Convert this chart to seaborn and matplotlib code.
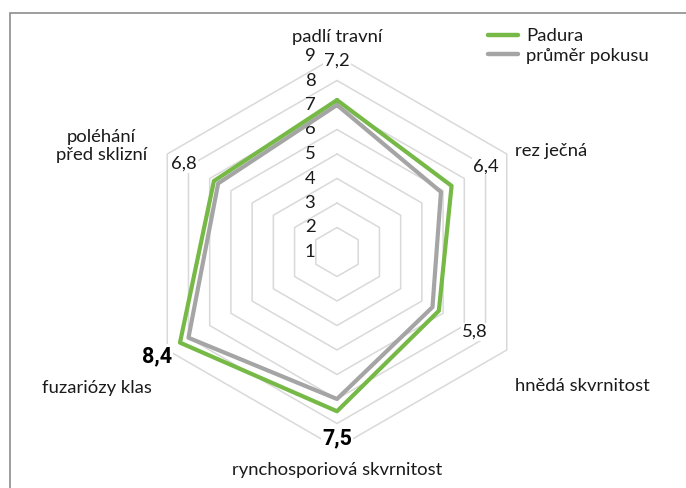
import numpy as np
import pandas as pd
import matplotlib
matplotlib.use("Agg")
import matplotlib.pyplot as plt
from matplotlib.lines import Line2D
import seaborn as sns

# Chart data
categories = ["padlí travní", "rez ječná", "hnědá skvrnitost",
              "rynchosporiová skvrnitost", "fuzariózy klas", "poléhání\npřed sklizní"]
padura = [7.2, 6.4, 5.8, 7.5, 8.4, 6.8]
prumer = [7.0, 5.9, 5.5, 7.0, 8.0, 6.6]
series_names = ["Padura", "průměr pokusu"]
value_labels = ["7,2", "6,4", "5,8", "7,5", "8,4", "6,8"]
bold_labels = [False, False, False, True, True, False]
ticks = [1, 2, 3, 4, 5, 6, 7, 8, 9]

# axis runs from 1 (centre) to 9
vmin, vmax = 1, 9

sns.set_theme(style="white")
plt.rcParams['font.family'] = ['Lato', 'DejaVu Sans']

W, H = 686, 488
FS = 13.3
fig = plt.figure(figsize=(W / 100, H / 100), dpi=100)
ax = fig.add_axes([0, 0, 1, 1])

cx, cy = 337, 252   # centre in pixels (from top)
unit = 24.5         # pixels per value unit
ax.set_xlim(-cx / unit, (W - cx) / unit)
ax.set_ylim(-(H - cy) / unit, cy / unit)
ax.axis("off")

n = len(categories)
angles = np.pi / 2 - np.arange(n) * 2 * np.pi / n


def to_xy(vals):
    r = np.asarray(vals, dtype=float) - vmin
    x = r * np.cos(angles)
    y = r * np.sin(angles)
    return np.append(x, x[0]), np.append(y, y[0])


# hexagonal grid
for t in ticks[1:]:
    gx, gy = to_xy([t] * n)
    ax.plot(gx, gy, color="#d9d9d9", lw=1.1, zorder=1)

# tick labels
for t in ticks:
    ax.text(-1.1, t - vmin, str(t), ha="center", va="center",
            fontsize=FS, color="#1a1a1a", zorder=2)

# series
palette = {"Padura": "#76b947", "průměr pokusu": "#a5a5a5"}
rows = []
for name, vals in zip(series_names, [padura, prumer]):
    x, y = to_xy(vals)
    for i, (xi, yi) in enumerate(zip(x, y)):
        rows.append({"series": name, "order": i, "x": xi, "y": yi})
df = pd.DataFrame(rows)
sns.lineplot(data=df, x="x", y="y", hue="series", units="series", estimator=None,
             sort=False, palette=palette, hue_order=series_names[::-1], lw=3,
             ax=ax, legend=False)
for ln in ax.lines[-2:]:
    if ln.get_color() == palette["Padura"]:
        ln.set_zorder(4)
    else:
        ln.set_zorder(3)

# value labels (Padura), positioned along each axis
label_r = [7.8, 7.0, 6.5, 7.6, 8.5, 7.2]
for a, r, txt, b in zip(angles, label_r, value_labels, bold_labels):
    ax.text(r * np.cos(a), r * np.sin(a), txt, ha="center", va="center",
            fontsize=15.5 if b else FS, fontweight="bold" if b else "normal",
            family=['Roboto', 'DejaVu Sans'] if b else ['Lato', 'DejaVu Sans'],
            color="#000000" if b else "#1a1a1a", zorder=5,
            bbox=dict(boxstyle="square,pad=0.05", fc="white", ec="none"))

# category labels
cat_pos = [((336.7, 37), "center"), ((515, 151), "left"), ((515, 386), "left"),
           ((337, 470), "center"), ((152, 388), "right"), ((101.7, 146), "center")]
for ((px, py), ha), lab in zip(cat_pos, categories):
    ax.text(px / W, 1 - py / H, lab, transform=fig.transFigure, ha=ha, va="center",
            fontsize=FS, color="#1a1a1a", multialignment="center", linespacing=1.2)

# legend
handles = [Line2D([0], [0], color=palette[s], lw=3.2, solid_capstyle="round")
           for s in series_names]
fig.legend(handles, series_names, loc="upper left", bbox_to_anchor=(488 / W, 1 - 28 / H),
           frameon=False, fontsize=FS, handlelength=1.6, handletextpad=0.45,
           borderpad=0, borderaxespad=0, labelspacing=0.2, labelcolor="#1a1a1a")

# chart frame (cut at right and bottom)
fig.add_artist(plt.Rectangle((10 / W, -0.1), 1.2, 1 - 13 / H + 0.1, transform=fig.transFigure,
                             fill=False, ec="#8c8c8c", lw=1.2))

fig.savefig("out.png", dpi=100)
